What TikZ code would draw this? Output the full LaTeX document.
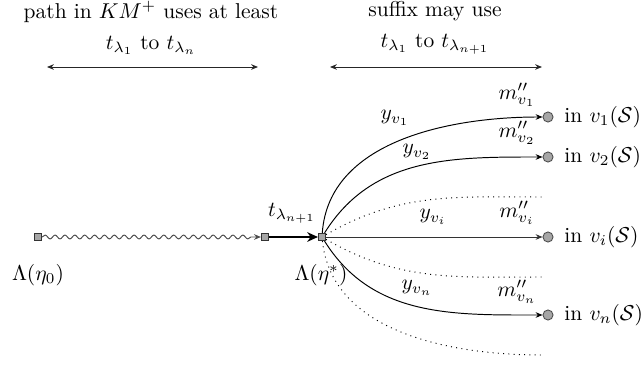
\documentclass[tikz,border=0pt]{standalone}
\usetikzlibrary{arrows.meta,decorations.pathmorphing}
\begin{document}
\begin{tikzpicture}[x=0.01635cm,y=0.01635cm,
  sq/.style={draw=black!80,fill=black!35,minimum size=3.4pt,inner sep=0pt,line width=0.4pt},
  circ/.style={circle,draw=black!70,fill=black!35,minimum size=4.7pt,inner sep=0pt,line width=0.4pt},
  thin arrow/.style={-{Stealth[length=3.2pt,width=2.6pt]},line width=0.45pt},
  dots/.style={dotted,line width=0.45pt},
  lbl/.style={inner sep=0pt}]
\useasboundingbox (0,0) rectangle (641,365);
% top texts
\node[lbl,align=center] (t1) at (151,337) {path in $KM^{+}$ uses at least\\[2.4pt] $t_{\lambda_1}$ to $t_{\lambda_n}$};
\node[lbl,align=center] (t2) at (435,337) {suffix may use\\[2.4pt] $t_{\lambda_1}$ to $t_{\lambda_{n+1}}$};
\coordinate (a1) at (47,298);
\coordinate (a2) at (258,298);
\coordinate (b1) at (330,298);
\coordinate (b2) at (542,298);
\draw[{Stealth[length=3.2pt,width=2.6pt]}-{Stealth[length=3.2pt,width=2.6pt]},line width=0.45pt,black!85] (a1) -- (a2);
\draw[{Stealth[length=3.2pt,width=2.6pt]}-{Stealth[length=3.2pt,width=2.6pt]},line width=0.45pt,black!85] (b1) -- (b2);
% squares
\node[sq] (s0) at (38,128) {};
\node[sq] (s1) at (265,128) {};
\node[sq] (s2) at (322,128) {};
\node[lbl] (l0) at (38,90) {$\Lambda(\eta_0)$};
\node[lbl] (l2) at (321,90) {$\Lambda(\eta^{*})$};
\node[lbl] (ltn) at (292,152) {$t_{\lambda_{n+1}}$};
% wavy and thick
\draw[black!70,line width=0.45pt,decorate,decoration={snake,amplitude=0.9pt,segment length=4.6pt,post length=4pt},-{Stealth[length=3.2pt,width=2.6pt]}] (s0) -- (s1);
\draw[line width=1.2pt,-{Stealth[length=5pt,width=4.5pt]}] (s1) -- (s2);
% circles
\node[circ] (c1) at (548,248) {};
\node[circ] (c2) at (548,208) {};
\node[circ] (ci) at (548,128) {};
\node[circ] (cn) at (548,50) {};
\node[lbl,anchor=west] (i1) at (564,248) {in $v_1(\mathcal{S})$};
\node[lbl,anchor=west] (i2) at (564,208) {in $v_2(\mathcal{S})$};
\node[lbl,anchor=west] (ii) at (564,128) {in $v_i(\mathcal{S})$};
\node[lbl,anchor=west] (in) at (564,50) {in $v_n(\mathcal{S})$};
% dotted ends
\coordinate (d1) at (542,168);
\coordinate (d2) at (542,88);
\coordinate (d3) at (542,10);
% curves
\draw[thin arrow] (s2) to[out=86,in=180,looseness=0.95] (c1);
\draw[thin arrow] (s2) to[out=58,in=180] (c2);
\draw[thin arrow,black!80] (s2) -- (ci);
\draw[thin arrow] (s2) to[out=-58,in=180] (cn);
\draw[dots] (s2) to[out=30,in=180] (d1);
\draw[dots] (s2) to[out=-30,in=180] (d2);
\draw[dots] (s2) to[out=-84,in=180,looseness=0.95] (d3);
% labels
\node[lbl] (y1) at (395,247) {$y_{v_1}$};
\node[lbl] (y2) at (417,213) {$y_{v_2}$};
\node[lbl] (yi) at (433,148) {$y_{v_i}$};
\node[lbl] (yn) at (417,77) {$y_{v_n}$};
\node[lbl] (m1) at (517,270) {$m''_{v_1}$};
\node[lbl] (m2) at (517,232) {$m''_{v_2}$};
\node[lbl] (mi) at (517,152) {$m''_{v_i}$};
\node[lbl] (mn) at (517,73) {$m''_{v_n}$};
\end{tikzpicture}
\end{document}
